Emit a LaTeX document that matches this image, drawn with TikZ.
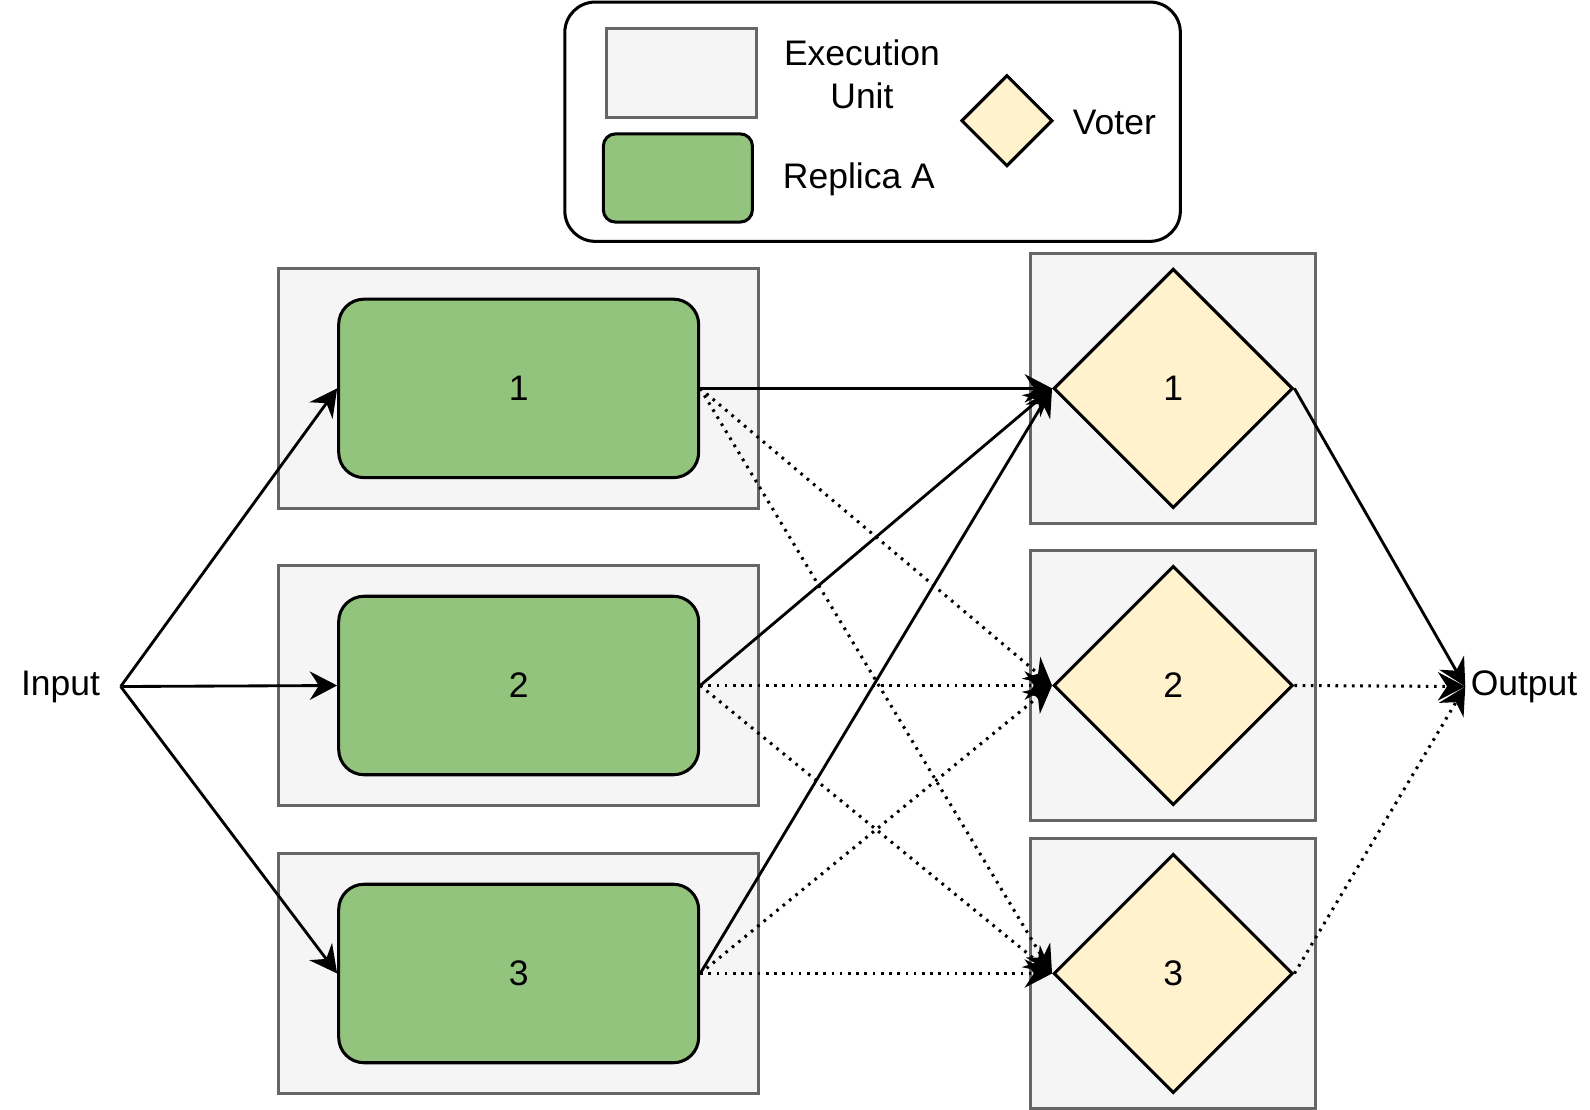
\documentclass[tikz,border=0pt]{standalone}
\usepackage{fontspec}
\setmainfont{Liberation Sans}
\usetikzlibrary{arrows.meta,shapes.geometric}
\definecolor{eufill}{HTML}{F5F5F5}
\definecolor{eudraw}{HTML}{666666}
\definecolor{repfill}{HTML}{93C47D}
\definecolor{votfill}{HTML}{FFF2CC}
\begin{document}
\begin{tikzpicture}[x=0.5pt,y=-0.5pt,
 font=\fontsize{17.5}{21}\selectfont,
 eubox/.style={draw=eudraw,fill=eufill,line width=1.5pt,rectangle,inner sep=0},
 repbox/.style={draw=black,fill=repfill,line width=1.5pt,rectangle,rounded corners=12.5pt,minimum width=177.5pt,minimum height=88pt,inner sep=0},
 votbox/.style={draw=black,fill=votfill,line width=1.5pt,diamond,minimum width=118pt,minimum height=118pt,inner sep=0},
 conn/.style={line width=1.4pt,-{Stealth[length=13.5pt,width=14pt,inset=4.5pt]}},
 dotconn/.style={conn,line width=1.5pt,dash pattern=on 1.3pt off 2.75pt},
 lbl/.style={inner sep=0,align=center}
]
\useasboundingbox (0,0) rectangle (1568,1094.6);

% legend
\node[draw=black,line width=1.5pt,fill=white,rounded corners=15pt,minimum width=303.5pt,minimum height=118pt,inner sep=0] (legend) at (860.5,120) {};
\node[eubox,minimum width=74pt,minimum height=44pt] (leu) at (672,72) {};
\node[draw=black,fill=repfill,line width=1.5pt,rounded corners=6pt,minimum width=73.5pt,minimum height=43.5pt,inner sep=0] (lrep) at (668.5,175.5) {};
\node[votbox,minimum width=45pt,minimum height=45pt] (lvot) at (993,119) {};
\node[lbl] (leut) at (850,73) {Execution\\Unit};
\node[lbl] (lrept) at (847,177) {Replica A};
\node[lbl] (lvott) at (1099,121) {Voter};

% execution units (left)
\node[eubox,minimum width=236.5pt,minimum height=118pt] (eu1) at (511.5,383) {};
\node[eubox,minimum width=236.5pt,minimum height=118pt] (eu2) at (511.5,676) {};
\node[eubox,minimum width=236.5pt,minimum height=118pt] (eu3) at (511.5,960) {};
% execution units (right)
\node[eubox,minimum width=140.5pt,minimum height=133pt] (ev1) at (1156.5,383) {};
\node[eubox,minimum width=140.5pt,minimum height=133pt] (ev2) at (1156.5,676) {};
\node[eubox,minimum width=140.5pt,minimum height=133pt] (ev3) at (1156.5,960) {};

% replicas
\node[repbox] (r1) at (511.5,383) {1};
\node[repbox] (r2) at (511.5,676) {2};
\node[repbox] (r3) at (511.5,960) {3};
% voters
\node[votbox] (v1) at (1157,383) {1};
\node[votbox] (v2) at (1157,676) {2};
\node[votbox] (v3) at (1157,960) {3};

% input / output
\node[anchor=east,inner xsep=10pt,inner ysep=0] (inp) at (119,677) {Input};
\node[anchor=west,inner xsep=2.5pt,inner ysep=0] (outp) at (1445,677) {Output};

% connectors
\draw[conn] (inp.east) -- (r1.west);
\draw[conn] (inp.east) -- (r2.west);
\draw[conn] (inp.east) -- (r3.west);

\draw[dotconn] (r1.east) -- (v2.west);
\draw[dotconn] (r1.east) -- (v3.west);
\draw[dotconn] (r2.east) -- (v2.west);
\draw[dotconn] (r2.east) -- (v3.west);
\draw[dotconn] (r3.east) -- (v2.west);
\draw[dotconn] (r3.east) -- (v3.west);
\draw[conn] (r1.east) -- (v1.west);
\draw[conn] (r2.east) -- (v1.west);
\draw[conn] (r3.east) -- (v1.west);

\draw[conn] (v1.east) -- (outp.west);
\draw[dotconn] (v2.east) -- (outp.west);
\draw[dotconn] (v3.east) -- (outp.west);
\end{tikzpicture}
\end{document}
